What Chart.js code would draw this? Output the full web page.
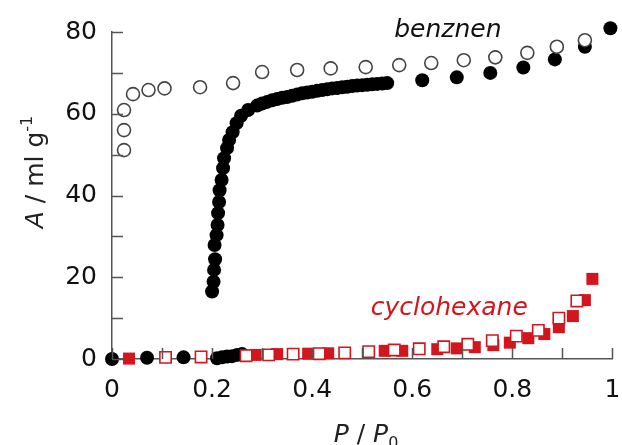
<!DOCTYPE html>
<html>
<head>
<meta charset="utf-8">
<script src="https://cdn.jsdelivr.net/npm/chart.js@4.4.1/dist/chart.umd.min.js"></script>
<style>
  html, body { margin: 0; padding: 0; background: #fff; }
  #wrap { width: 622px; height: 445px; position: relative; }
</style>
</head>
<body>
<div id="wrap"><canvas id="isoChart"></canvas></div>
<script>
// benzene adsorption (filled circles)
const benzAdsX = [0, 0.07, 0.143, 0.21, 0.22, 0.23, 0.24, 0.25, 0.26,
  0.200, 0.203, 0.204, 0.206, 0.205, 0.209, 0.211, 0.212, 0.214, 0.215, 0.219, 0.222, 0.224, 0.230, 0.234, 0.241, 0.249, 0.258, 0.272, 0.290,
  0.30, 0.31, 0.32, 0.33, 0.34, 0.35, 0.36, 0.37, 0.38, 0.39, 0.40, 0.41, 0.42, 0.43, 0.44, 0.45, 0.46, 0.47, 0.48, 0.49, 0.50, 0.51, 0.52, 0.53, 0.54, 0.55,
  0.62, 0.689, 0.756, 0.822, 0.885, 0.945, 0.996];
const benzAdsY = [0, 0.3, 0.4, 0.2, 0.4, 0.6, 0.7, 1.0, 1.2,
  16.5, 18.9, 21.8, 24.4, 27.9, 30.3, 32.8, 35.7, 38.4, 41.3, 43.8, 46.7, 49.1, 51.6, 53.6, 55.5, 57.7, 59.5, 60.9, 62.0,
  62.5, 62.9, 63.3, 63.6, 63.9, 64.1, 64.4, 64.7, 65.0, 65.2, 65.4, 65.6, 65.8, 66.0, 66.2, 66.3, 66.5, 66.6, 66.8, 66.9, 67.0, 67.1, 67.2, 67.3, 67.4, 67.5,
  68.2, 68.9, 70.0, 71.3, 73.3, 76.4, 80.9];

// benzene desorption (open circles)
const benzDesX = [0.024, 0.024, 0.024, 0.042, 0.073, 0.105, 0.176, 0.242, 0.30, 0.37, 0.437, 0.507, 0.574, 0.638, 0.703, 0.766, 0.83, 0.889, 0.945];
const benzDesY = [51.1, 56.0, 60.9, 64.8, 65.8, 66.2, 66.5, 67.5, 70.2, 70.7, 71.1, 71.4, 71.9, 72.4, 73.1, 73.8, 74.9, 76.4, 78.0];

// cyclohexane adsorption (filled squares)
const cycAdsX = [0.034, 0.287, 0.33, 0.392, 0.432, 0.545, 0.58, 0.65, 0.689, 0.725, 0.762, 0.795, 0.832, 0.864, 0.893, 0.921, 0.945, 0.96];
const cycAdsY = [0.1, 1.0, 1.2, 1.3, 1.4, 2.0, 2.0, 2.4, 2.6, 2.9, 3.4, 4.0, 5.1, 6.1, 7.8, 10.5, 14.4, 19.6];

// cyclohexane desorption (open squares)
const cycDesX = [0.107, 0.178, 0.268, 0.313, 0.362, 0.414, 0.465, 0.513, 0.564, 0.614, 0.663, 0.711, 0.760, 0.808, 0.852, 0.893, 0.929];
const cycDesY = [0.4, 0.5, 0.8, 1.0, 1.2, 1.3, 1.5, 1.8, 2.2, 2.5, 3.0, 3.6, 4.5, 5.6, 7.0, 10.0, 14.2];

const red = '#d3151e';
const axisColor = '#555';
const fontFam = '"DejaVu Sans", sans-serif';

const toPts = (xs, ys) => xs.map((x, i) => ({ x: x, y: ys[i] }));

// inward tick marks, annotations and axis titles with sub/superscripts
const decorPlugin = {
  id: 'decor',
  afterDraw(chart) {
    const { ctx, scales: { x, y } } = chart;
    ctx.save();
    ctx.strokeStyle = axisColor;
    ctx.lineWidth = 1.5;
    ctx.beginPath();
    y.ticks.forEach(t => {
      const py = Math.round(y.getPixelForValue(t.value)) + 0.5;
      ctx.moveTo(x.left, py);
      ctx.lineTo(x.left + 11, py);
    });
    x.ticks.forEach(t => {
      const px = Math.round(x.getPixelForValue(t.value)) + 0.5;
      ctx.moveTo(px, y.bottom);
      ctx.lineTo(px, y.bottom - 11);
    });
    ctx.stroke();

    ctx.textBaseline = 'alphabetic';
    ctx.textAlign = 'left';
    ctx.font = 'italic 25px ' + fontFam;
    ctx.fillStyle = '#111';
    ctx.fillText('benznen', x.getPixelForValue(0.564), y.getPixelForValue(78.8));
    ctx.fillStyle = red;
    ctx.fillText('cyclohexane', x.getPixelForValue(0.517), y.getPixelForValue(10.8));

    const drawParts = (parts, cx, cy) => {
      let w = 0;
      parts.forEach(p => { ctx.font = p.f; w += ctx.measureText(p.t).width; });
      let px = cx - w / 2;
      parts.forEach(p => {
        ctx.font = p.f;
        ctx.fillText(p.t, px, cy + (p.dy || 0));
        px += ctx.measureText(p.t).width;
      });
    };
    ctx.fillStyle = '#222';
    const big = '25px ' + fontFam, bigI = 'italic 25px ' + fontFam, small = '16px ' + fontFam;
    drawParts([{ t: 'P', f: bigI }, { t: ' / ', f: big }, { t: 'P', f: bigI }, { t: '0', f: small, dy: 6 }], 366, 442);

    ctx.translate(43, 172);
    ctx.rotate(-Math.PI / 2);
    drawParts([{ t: 'A', f: bigI }, { t: ' / ml g', f: big }, { t: '-1', f: small, dy: -11 }], 0, 0);
    ctx.restore();
  }
};

new Chart(document.getElementById('isoChart'), {
  type: 'scatter',
  data: {
    datasets: [
      {
        label: 'benzene des',
        data: toPts(benzDesX, benzDesY),
        pointStyle: 'circle',
        pointRadius: 6.5,
        pointBorderWidth: 1.6,
        pointBorderColor: '#444',
        pointBackgroundColor: '#fff'
      },
      {
        label: 'cyclohexane des',
        data: toPts(cycDesX, cycDesY),
        pointStyle: 'rect',
        pointRadius: 8,
        pointBorderWidth: 1.6,
        pointBorderColor: red,
        pointBackgroundColor: '#fff'
      },
      {
        label: 'benzene ads',
        data: toPts(benzAdsX, benzAdsY),
        pointStyle: 'circle',
        pointRadius: 7,
        pointBorderWidth: 0,
        pointBackgroundColor: '#000'
      },
      {
        label: 'cyclohexane ads',
        data: toPts(cycAdsX, cycAdsY),
        pointStyle: 'rect',
        pointRadius: 8.5,
        pointBorderWidth: 0,
        pointBackgroundColor: red
      }
    ]
  },
  options: {
    responsive: true,
    maintainAspectRatio: false,
    animation: false,
    clip: false,
    layout: { padding: { top: 32, right: 5, left: 0, bottom: 0 } },
    plugins: { legend: { display: false }, tooltip: { enabled: false } },
    scales: {
      x: {
        type: 'linear',
        min: 0, max: 1,
        grid: { display: false, drawTicks: false },
        border: { display: true, color: axisColor, width: 1.5 },
        ticks: {
          stepSize: 0.1,
          autoSkip: false,
          maxRotation: 0,
          padding: 16,
          color: '#111',
          font: { family: fontFam, size: 25 },
          callback: v => {
            const k = Math.round(v * 10);
            if (k % 2 !== 0) return '';
            return k === 0 ? '0' : k === 10 ? '1' : (k / 10).toFixed(1);
          }
        },
        afterFit: s => { s.height = 86; s.paddingLeft = 0; s.paddingRight = 0; }
      },
      y: {
        type: 'linear',
        min: 0, max: 80,
        grid: { display: false, drawTicks: false },
        border: { display: true, color: axisColor, width: 1.5 },
        ticks: {
          stepSize: 10,
          autoSkip: false,
          padding: 15,
          color: '#111',
          font: { family: fontFam, size: 25 },
          callback: v => (v % 20 === 0 ? v : '')
        },
        afterFit: s => { s.width = 112; s.paddingTop = 0; s.paddingBottom = 0; }
      }
    }
  },
  plugins: [decorPlugin]
});
</script>
</body>
</html>
